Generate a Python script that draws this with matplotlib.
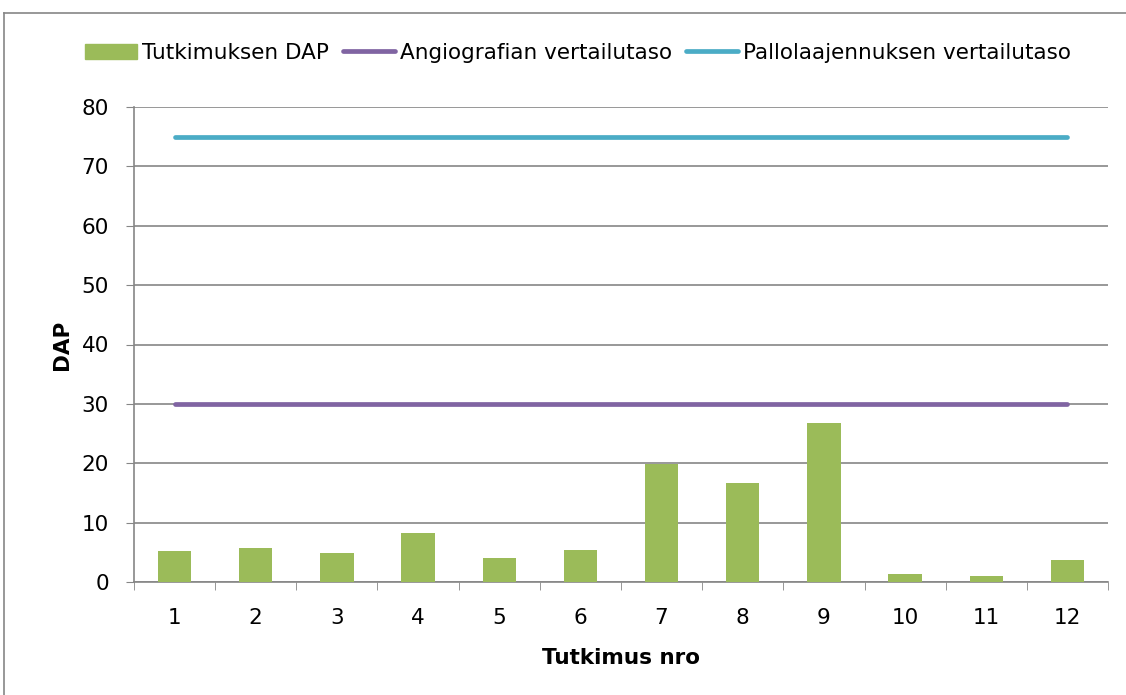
import matplotlib.pyplot as plt
from matplotlib.lines import Line2D
import numpy as np

# data
tutkimus = [1, 2, 3, 4, 5, 6, 7, 8, 9, 10, 11, 12]
dap = [5.2, 5.8, 4.9, 8.3, 4.0, 5.4, 19.9, 16.7, 26.7, 1.4, 0.95, 3.65]
angio_taso = [30] * 12
pallo_taso = [75] * 12

green = '#9BBB59'
purple = '#8064A2'
cyan = '#4BACC6'
grid_c = '#868686'
fs = 15.5

plt.rcParams['font.family'] = ['DejaVu Sans']

fig = plt.figure(figsize=(11.26, 6.95), dpi=100)
ax = fig.add_axes([134 / 1126, 1 - 582 / 695, (1108 - 134) / 1126, (582 - 107) / 695])

x = np.arange(len(tutkimus))
ax.bar(x, dap, width=0.41, color=green, zorder=3, label='Tutkimuksen DAP')
ax.plot(x, angio_taso, color=purple, lw=3.4, solid_capstyle='round', zorder=4,
        label='Angiografian vertailutaso')
ax.plot(x, pallo_taso, color=cyan, lw=3.4, solid_capstyle='round', zorder=4,
        label='Pallolaajennuksen vertailutaso')

ax.set_xlim(-0.5, len(tutkimus) - 0.5)
ax.set_ylim(0, 80)
ax.set_yticks(range(0, 81, 10))
ax.set_xticks(x)
ax.set_xticklabels([str(t) for t in tutkimus])
ax.set_xticks(np.arange(-0.5, len(tutkimus)), minor=True)
ax.tick_params(axis='x', which='major', length=0, labelsize=fs, pad=19)
ax.tick_params(axis='x', which='minor', length=6, color=grid_c, direction='out')
ax.tick_params(axis='y', length=6, color=grid_c, labelsize=fs, pad=12)
ax.yaxis.grid(True, color=grid_c, lw=1.2, zorder=0)

for s in ['top', 'right']:
    ax.spines[s].set_visible(False)
for s in ['left', 'bottom']:
    ax.spines[s].set_color(grid_c)
    ax.spines[s].set_linewidth(1.2)

ax.set_ylabel('DAP', fontsize=fs, fontweight='bold', labelpad=7)
ax.set_xlabel('Tutkimus nro', fontsize=fs, fontweight='bold', labelpad=14)

handles = [plt.Rectangle((0, 0), 1, 1, color=green),
           Line2D([0], [0], color=purple, lw=3.4, solid_capstyle='round'),
           Line2D([0], [0], color=cyan, lw=3.4, solid_capstyle='round')]
labels = ['Tutkimuksen DAP', 'Angiografian vertailutaso', 'Pallolaajennuksen vertailutaso']
fig.legend(handles, labels, loc='center', bbox_to_anchor=(578 / 1126, 1 - 53 / 695),
           ncol=3, frameon=False, fontsize=fs, handlelength=2.4, handletextpad=0.25,
           columnspacing=0.65, handleheight=0.7, borderpad=0)

# outer chart frame
fig.add_artist(Line2D([4 / 1126, 4 / 1126], [0, 1 - 13 / 695], color='#868686', lw=1.2))
fig.add_artist(Line2D([4 / 1126, 1], [1 - 13 / 695, 1 - 13 / 695], color='#868686', lw=1.2))

fig.savefig('out.png', dpi=100)
